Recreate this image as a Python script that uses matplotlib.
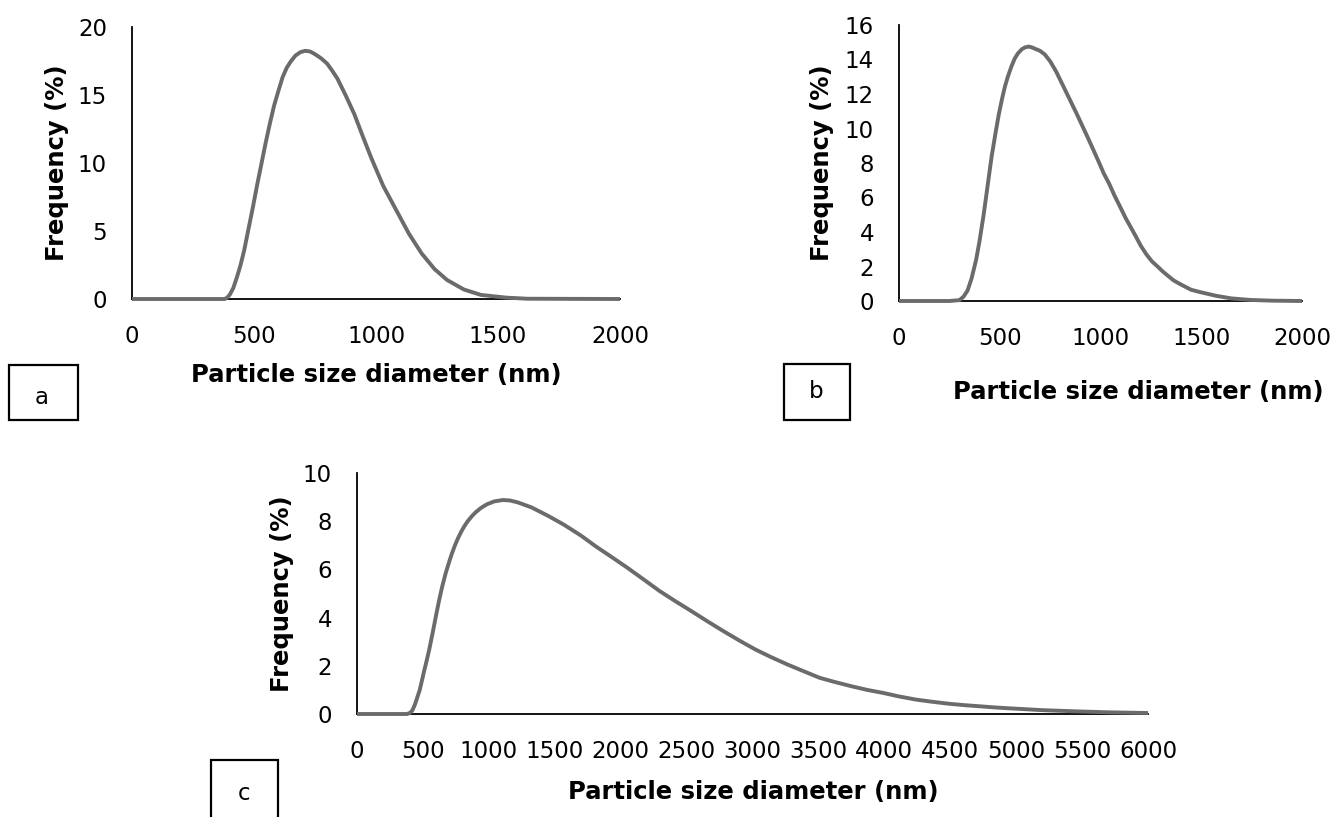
import numpy as np
import matplotlib
matplotlib.use("Agg")
import matplotlib.pyplot as plt
from matplotlib.patches import Rectangle

plt.rcParams['font.family'] = ['DejaVu Sans']

W, H = 1331, 817

# panel a
size_a = [0, 380, 390, 400, 415, 430, 445, 460, 478, 496, 513, 530, 548, 565, 582, 600,
          617, 634, 652, 670, 690, 710, 730, 750, 775, 800, 820, 842, 875, 911, 945,
          980, 1030, 1084, 1135, 1187, 1240, 1291, 1360, 1430, 1534, 1620, 2000]
freq_a = [0, 0, 0.1, 0.3, 0.8, 1.6, 2.5, 3.6, 5.2, 6.8, 8.4, 9.9, 11.5, 12.9, 14.2, 15.3,
          16.3, 17.0, 17.5, 17.9, 18.15, 18.25, 18.2, 18.0, 17.7, 17.3, 16.8, 16.2, 15.0, 13.6, 12.0,
          10.4, 8.3, 6.5, 4.8, 3.35, 2.2, 1.4, 0.7, 0.3, 0.1, 0.02, 0]

# panel b
size_b = [0, 250, 300, 320, 340, 360, 383, 400, 420, 433, 447, 460, 480, 495, 511, 525,
          540, 558, 574, 590, 610, 625, 643, 660, 680, 700, 723, 750, 780, 805, 830,
          855, 880, 908, 936, 963, 990, 1016, 1043, 1070, 1100, 1125, 1149, 1175, 1200,
          1228, 1255, 1283, 1310, 1336, 1362, 1400, 1450, 1500, 1574, 1650, 1745, 1850, 2000]
freq_b = [0, 0, 0.05, 0.25, 0.6, 1.3, 2.4, 3.5, 5.0, 6.1, 7.3, 8.4, 9.8, 10.8, 11.7, 12.4,
          13.0, 13.6, 14.05, 14.35, 14.6, 14.7, 14.75, 14.7, 14.6, 14.5, 14.3, 13.9, 13.3, 12.7, 12.1,
          11.5, 10.9, 10.2, 9.5, 8.8, 8.1, 7.4, 6.8, 6.1, 5.4, 4.8, 4.3, 3.75, 3.2,
          2.7, 2.3, 2.0, 1.7, 1.45, 1.2, 0.95, 0.65, 0.5, 0.3, 0.15, 0.06, 0.02, 0]

# panel c
size_c = [0, 380, 403, 420, 440, 458, 476, 493, 510, 530, 549, 575, 600, 623, 646, 673,
          700, 720, 743, 765, 790, 815, 840, 870, 900, 940, 985, 1040, 1107, 1160, 1220,
          1325, 1450, 1568, 1700, 1810, 1930, 2053, 2175, 2296, 2418, 2539, 2660, 2782,
          2903, 3024, 3145, 3267, 3390, 3510, 3630, 3752, 3870, 3995, 4110, 4238, 4360,
          4481, 4600, 4723, 4845, 4966, 5200, 5451, 5700, 6000]
freq_c = [0, 0, 0.05, 0.15, 0.4, 0.7, 1.0, 1.4, 1.8, 2.25, 2.7, 3.4, 4.1, 4.72, 5.28, 5.85,
          6.33, 6.66, 7.0, 7.28, 7.56, 7.8, 8.0, 8.2, 8.37, 8.55, 8.7, 8.82, 8.88, 8.86, 8.78,
          8.57, 8.22, 7.86, 7.4, 6.96, 6.52, 6.06, 5.58, 5.1, 4.67, 4.26, 3.84, 3.43,
          3.04, 2.67, 2.35, 2.05, 1.77, 1.5, 1.32, 1.15, 1.0, 0.87, 0.73, 0.6, 0.51,
          0.43, 0.37, 0.32, 0.27, 0.23, 0.16, 0.11, 0.07, 0.04]

xticks_ab = [0, 500, 1000, 1500, 2000]
xticks_c = list(range(0, 6001, 500))
yticks_a = [0, 5, 10, 15, 20]
yticks_b = list(range(0, 17, 2))
yticks_c = list(range(0, 11, 2))

line_col = '#6b6b6b'
fs_tick = 16.5
fs_lab = 17.5


def box(x0, y0, x1, y1):
    # pixel box -> figure fraction
    return [x0 / W, 1 - y1 / H, (x1 - x0) / W, (y1 - y0) / H]


def panel(fig, rect, x, y, xlim, ylim, xt, yt):
    ax = fig.add_axes(rect)
    ax.plot(x, y, color=line_col, lw=2.8, solid_capstyle='butt', zorder=3, clip_on=False)
    ax.set_xlim(*xlim)
    ax.set_ylim(*ylim)
    ax.set_xticks(xt)
    ax.set_yticks(yt)
    ax.tick_params(length=0, labelsize=fs_tick)
    ax.tick_params(axis='y', pad=18)
    ax.tick_params(axis='x', pad=19)
    for s in ['top', 'right']:
        ax.spines[s].set_visible(False)
    for s in ['left', 'bottom']:
        ax.spines[s].set_linewidth(1.3)
        ax.spines[s].set_color('black')
    return ax


fig = plt.figure(figsize=(W / 100, H / 100), dpi=100)

ax_a = panel(fig, box(132, 27, 620, 299), size_a, freq_a, (0, 2000), (0, 20), xticks_ab, yticks_a)
ax_b = panel(fig, box(899, 25, 1302, 301), size_b, freq_b, (0, 2000), (0, 16), xticks_ab, yticks_b)
ax_c = panel(fig, box(357, 473, 1148, 714), size_c, freq_c, (0, 6000), (0, 10), xticks_c, yticks_c)

# y labels at fixed pixel positions
for lx, ly in [(57, 163), (822, 163), (282, 594)]:
    fig.text(lx / W, 1 - ly / H, 'Frequency (%)', rotation=90, ha='center', va='center',
             fontsize=fs_lab, fontweight='bold')

# x labels
for lx, ly in [(376, 375), (1138, 392), (753, 792)]:
    fig.text(lx / W, 1 - ly / H, 'Particle size diameter (nm)', ha='center', va='center',
             fontsize=fs_lab, fontweight='bold')

# panel letter boxes
for (x0, y0, x1, y1), lx, ly, letter in [((9, 365, 78, 420), 42, 398, 'a'),
                                          ((784, 364, 850, 420), 816, 392, 'b'),
                                          ((211, 760, 278, 830), 244, 793, 'c')]:
    fig.patches.append(Rectangle((x0 / W, 1 - y1 / H), (x1 - x0) / W, (y1 - y0) / H,
                                 transform=fig.transFigure, fill=False, ec='black', lw=1.6))
    fig.text(lx / W, 1 - ly / H, letter, ha='center', va='center', fontsize=fs_tick)

fig.savefig('out.png', dpi=100)
